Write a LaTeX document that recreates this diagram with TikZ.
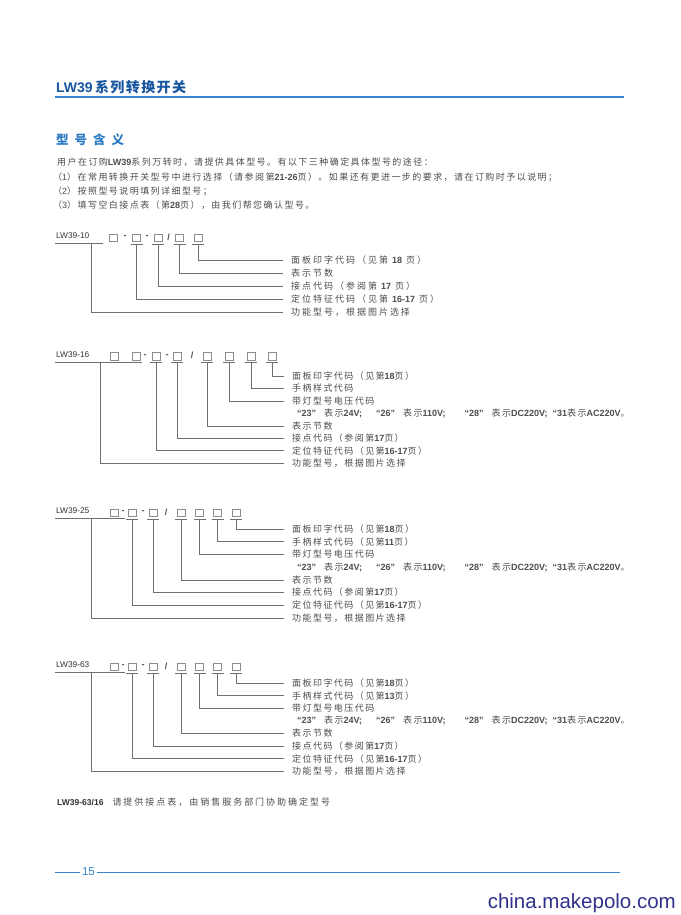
\documentclass[tikz,border=0pt]{standalone}
\usepackage{fontspec}
\setmainfont{Liberation Sans}
\newfontfamily\lat{Liberation Sans}
\newfontfamily\cjk[LetterSpace=16]{Noto Sans CJK SC}
\newfontfamily\cjkw[LetterSpace=22]{Noto Sans CJK SC}
\newfontfamily\cjkh[LetterSpace=10]{Noto Sans CJK SC}
\newcommand{\nm}[1]{{\lat\bfseries #1}}
\usepackage{xcolor}
\usepackage{tikz}
\usetikzlibrary{positioning}

\definecolor{hdblue}{RGB}{24,86,160}
\definecolor{secblue}{RGB}{44,122,194}
\definecolor{lineblue}{RGB}{52,132,206}
\definecolor{tgray}{RGB}{78,78,78}
\definecolor{lgray}{RGB}{112,112,112}
\definecolor{wmnavy}{RGB}{48,50,140}

\tikzset{
  cbox/.style={draw=lgray!80, line width=0.5pt, minimum width=8pt, minimum height=7.5pt, inner sep=0pt},
  lead/.style={draw=lgray, line width=0.6pt},
  desc/.style={anchor=west, inner sep=0pt, text=tgray, font=\cjk\fontsize{9}{10}\selectfont},
  intro/.style={anchor=west, inner sep=0pt, text=tgray, font=\cjk\fontsize{9}{10}\selectfont},
  sep/.style={inner sep=0pt, text=tgray, font=\lat\bfseries\fontsize{9}{10}\selectfont},
  model/.style={anchor=west, inner sep=0pt, text=black!80, font=\lat\fontsize{8.3}{9}\selectfont},
}

\begin{document}
\begin{tikzpicture}[x=1pt,y=-1pt]
  \useasboundingbox[fill=white] (0,0) rectangle (680,915);

  % header
  \node[anchor=west, inner sep=0pt, text=hdblue, font=\lat\bfseries\fontsize{14}{16}\selectfont] (title) at (56,87) {LW39\,{\cjkh\bfseries 系列转换开关}};
  \coordinate (hl) at (55,97);
  \coordinate (hr) at (624,97);
  \draw[lineblue, line width=1.6pt] (hl) -- (hr);
  \node[anchor=west, inner sep=0pt, text=secblue, font=\cjkh\bfseries\fontsize{12.5}{14}\selectfont] (sec) at (56,140) {型\hspace{6pt}号\hspace{6pt}含\hspace{6pt}义};

  % intro text
  \node[intro] (i1) at (57,162) {用户在订购\nm{LW39}系列万转时，请提供具体型号。有以下三种确定具体型号的途径：};
  \node[intro] (i2) at (53,177) {（{\lat 1}）在常用转换开关型号中进行选择（请参阅第\nm{21-26}页）。如果还有更进一步的要求，请在订购时予以说明；};
  \node[intro] (i3) at (53,191) {（{\lat 2}）按照型号说明填列详细型号；};
  \node[intro] (i4) at (53,205) {（{\lat 3}）填写空白接点表（第\nm{28}页），由我们帮您确认型号。};

  % LW39-10
  \node[model] (mA) at (56,236) {LW39-10};
  \foreach \x [count=\i] in {113,136.5,158,179.5,198}
    \node[cbox] (a\i) at (\x,237.5) {};
  \node[sep] (da1) at (125,237.5) {-};
  \node[sep] (da2) at (147,237.5) {-};
  \node[sep] (da3) at (168.5,237) {/};
  \draw[lead] (55,243.75) -- (103,243.75);
  \coordinate (ua) at (91,243.75);
  \foreach \i in {2,...,5}
    \draw[lead] ([xshift=-6pt,yshift=-2.5pt]a\i.south) -- ([xshift=6pt,yshift=-2.5pt]a\i.south);
  \foreach \t [count=\i] in {{面板印字代码（见第 \nm{18} 页）},{表示节数},{接点代码（参阅第 \nm{17} 页）},{定位特征代码（见第 \nm{16-17} 页）},{功能型号，根据图片选择}}
    \node[desc, font=\cjkw\fontsize{9}{10}\selectfont] (ta\i) at (291,{260+13.1*(\i-1)}) {\t};
  \draw[lead] (ua) |- ([xshift=-8pt]ta5.west);
  \foreach \b/\r in {2/4,3/3,4/2,5/1}
    \draw[lead] ([yshift=-2.5pt]a\b.south) |- ([xshift=-8pt]ta\r.west);

  % LW39-16
  \node[model] (mB) at (56,355) {LW39-16};
  \foreach \x [count=\i] in {114,136,156,177,207,229,251,272}
    \node[cbox] (b\i) at (\x,356) {};
  \node[sep] (db1) at (145,356) {-};
  \node[sep] (db2) at (167,356) {-};
  \node[sep] (db3) at (192,355.5) {/};
  \draw[lead] (55,362.25) -- (142,362.25);
  \coordinate (ub) at (100,362.25);
  \foreach \i in {3,...,8}
    \draw[lead] ([xshift=-6pt,yshift=-2.5pt]b\i.south) -- ([xshift=6pt,yshift=-2.5pt]b\i.south);
  \foreach \t [count=\i] in {{面板印字代码（见第\nm{18}页）},{手柄样式代码},{带灯型号电压代码},{\hspace{5pt}\nm{“23”}\hspace{8pt}表示\nm{24V;}\hspace{14pt}\nm{“26”}\hspace{8pt}表示\nm{110V;}\hspace{19pt}\nm{“28”}\hspace{8pt}表示\nm{DC220V;}\hspace{5pt}\nm{“31}表示\nm{AC220V}。},{表示节数},{接点代码（参阅第\nm{17}页）},{定位特征代码（见第\nm{16-17}页）},{功能型号，根据图片选择}}
    \node[desc] (tb\i) at (292,{376+12.45*(\i-1)}) {\t};
  \draw[lead] (ub) |- ([xshift=-8pt]tb8.west);
  \foreach \b/\r in {3/7,4/6,5/5,6/3,7/2,8/1}
    \draw[lead] ([yshift=-2.5pt]b\b.south) |- ([xshift=-8pt]tb\r.west);

  % LW39-25
  \node[model] (mC) at (56,511) {LW39-25};
  \foreach \x [count=\i] in {114,132,153,181,199.5,217.5,236}
    \node[cbox] (c\i) at (\x,512.5) {};
  \node[sep] (dc1) at (123,512.5) {-};
  \node[sep] (dc2) at (143,512.5) {-};
  \node[sep] (dc3) at (166,512) {/};
  \draw[lead] (55,518.75) -- (125,518.75);
  \coordinate (uc) at (91,518.75);
  \foreach \i in {2,...,7}
    \draw[lead] ([xshift=-6pt,yshift=-2.5pt]c\i.south) -- ([xshift=6pt,yshift=-2.5pt]c\i.south);
  \foreach \t [count=\i] in {{面板印字代码（见第\nm{18}页）},{手柄样式代码（见第\nm{11}页）},{带灯型号电压代码},{\hspace{5pt}\nm{“23”}\hspace{8pt}表示\nm{24V;}\hspace{14pt}\nm{“26”}\hspace{8pt}表示\nm{110V;}\hspace{19pt}\nm{“28”}\hspace{8pt}表示\nm{DC220V;}\hspace{5pt}\nm{“31}表示\nm{AC220V}。},{表示节数},{接点代码（参阅第\nm{17}页）},{定位特征代码（见第\nm{16-17}页）},{功能型号，根据图片选择}}
    \node[desc] (tc\i) at (292,{529+12.7*(\i-1)}) {\t};
  \draw[lead] (uc) |- ([xshift=-8pt]tc8.west);
  \foreach \b/\r in {2/7,3/6,4/5,5/3,6/2,7/1}
    \draw[lead] ([yshift=-2.5pt]c\b.south) |- ([xshift=-8pt]tc\r.west);

  % LW39-63
  \node[model] (mD) at (56,665) {LW39-63};
  \foreach \x [count=\i] in {114,132,153,181,199.5,217.5,236}
    \node[cbox] (d\i) at (\x,666.5) {};
  \node[sep] (dd1) at (123,666.5) {-};
  \node[sep] (dd2) at (143,666.5) {-};
  \node[sep] (dd3) at (166,666) {/};
  \draw[lead] (55,672.75) -- (125,672.75);
  \coordinate (ud) at (91,672.75);
  \foreach \i in {2,...,7}
    \draw[lead] ([xshift=-6pt,yshift=-2.5pt]d\i.south) -- ([xshift=6pt,yshift=-2.5pt]d\i.south);
  \foreach \t [count=\i] in {{面板印字代码（见第\nm{18}页）},{手柄样式代码（见第\nm{13}页）},{带灯型号电压代码},{\hspace{5pt}\nm{“23”}\hspace{8pt}表示\nm{24V;}\hspace{14pt}\nm{“26”}\hspace{8pt}表示\nm{110V;}\hspace{19pt}\nm{“28”}\hspace{8pt}表示\nm{DC220V;}\hspace{5pt}\nm{“31}表示\nm{AC220V}。},{表示节数},{接点代码（参阅第\nm{17}页）},{定位特征代码（见第\nm{16-17}页）},{功能型号，根据图片选择}}
    \node[desc] (td\i) at (292,{683+12.6*(\i-1)}) {\t};
  \draw[lead] (ud) |- ([xshift=-8pt]td8.west);
  \foreach \b/\r in {2/7,3/6,4/5,5/3,6/2,7/1}
    \draw[lead] ([yshift=-2.5pt]d\b.south) |- ([xshift=-8pt]td\r.west);

  % LW39-63/16 note
  \node[anchor=west, inner sep=0pt, text=black!80, font=\lat\bfseries\fontsize{8.5}{10}\selectfont] (note) at (57,802) {LW39-63/16\hspace{9pt}{\cjkw\mdseries\fontsize{9}{10}\selectfont\color{tgray}请提供接点表，由销售服务部门协助确定型号}};

  % footer
  \node[inner sep=0pt, text=lineblue, font=\lat\fontsize{11.5}{13}\selectfont] (pg) at (88.5,872) {15};
  \coordinate (fl) at (55,872);
  \coordinate (fr) at (620,872);
  \draw[lineblue, line width=0.8pt] (fl) -- ([xshift=-1.5pt]pg.west);
  \draw[lineblue, line width=0.8pt] ([xshift=1.5pt]pg.east) -- (fr);
  \node[anchor=east, inner sep=0pt, text=wmnavy, font=\lat\fontsize{20.5}{23}\selectfont] (wm) at (676,903) {china.makepolo.com};
\end{tikzpicture}
\end{document}
